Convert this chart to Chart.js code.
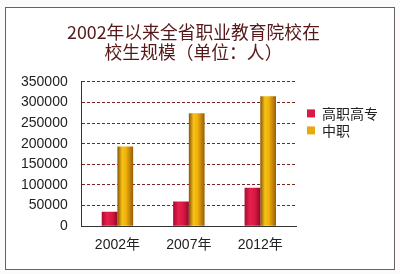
<!DOCTYPE html>
<html>
<head>
<meta charset="utf-8">
<script src="https://cdn.jsdelivr.net/npm/chart.js@4/dist/chart.umd.min.js"></script>
<style>
  html, body { margin: 0; padding: 0; background: #fbfbfb; }
  #frame {
    position: absolute; left: 5px; top: 7px;
    width: 388px; height: 261px;
    border: 1px solid #6e5f5f; background: #fff;
  }
  #frame canvas { display: block; }
</style>
</head>
<body>
<div id="frame"><canvas id="c" width="388" height="261"></canvas></div>
<script>
const TITLE = ['2002年以来全省职业教育院校在', '校生规模（单位：人）'];
const YEARS = ['2002年', '2007年', '2012年'];
const HIGHER = [35000, 60000, 93000];      // 高职高专
const SECONDARY = [193000, 274000, 315000]; // 中职

const RED_STOPS = [[0, '#a80c30'], [0.35, '#e8204c'], [0.7, '#d21640'], [1, '#8e0a26']];
const GOLD_STOPS = [[0, '#8a5206'], [0.3, '#f6c414'], [0.55, '#f0b00c'], [1, '#9a5c06']];

// horizontal gradient across each bar, for the cylinder look
const barShade = {
  id: 'barShade',
  afterLayout(chart) {
    // nudge the legend a little away from the plot
    chart.legend.left += 8;
    chart.legend.right += 8;
  },
  beforeDatasetsDraw(chart) {
    const ctx = chart.ctx;
    chart.data.datasets.forEach((ds, i) => {
      const stops = i === 0 ? RED_STOPS : GOLD_STOPS;
      chart.getDatasetMeta(i).data.forEach(bar => {
        const g = ctx.createLinearGradient(bar.x - bar.width / 2, 0, bar.x + bar.width / 2, 0);
        stops.forEach(([o, c]) => g.addColorStop(o, c));
        bar.options.backgroundColor = g;
      });
    });
  }
};

new Chart(document.getElementById('c'), {
  type: 'bar',
  data: {
    labels: YEARS,
    datasets: [
      // scriptable colour so every bar gets its own options object
      { label: '高职高专', data: HIGHER, backgroundColor: () => '#d81a44' },
      { label: '中职', data: SECONDARY, backgroundColor: () => '#e8a810' },
    ],
  },
  plugins: [barShade],
  options: {
    responsive: false,
    animation: false,
    categoryPercentage: 0.44,
    barPercentage: 1,
    layout: { padding: { left: 1, right: 14, top: 4, bottom: 12 } },
    scales: {
      x: {
        grid: { display: false },
        border: { color: '#333', width: 1 },
        ticks: { color: '#222', font: { family: 'Liberation Sans, Noto Sans CJK SC', size: 14 }, padding: 3 },
      },
      y: {
        min: 0,
        max: 350000,
        ticks: {
          stepSize: 50000, color: '#222', padding: 14,
          font: { family: 'Liberation Sans', size: 14 },
          callback: v => String(v),
        },
        grid: { color: '#7a2424', lineWidth: 1, drawTicks: false },
        border: { color: '#333', width: 1, dash: [3, 2] },
      },
    },
    plugins: {
      title: {
        display: true,
        text: TITLE,
        color: '#561818',
        font: { family: 'Noto Sans CJK SC', size: 17.8, weight: 'normal', lineHeight: 1.12 },
        padding: { top: 10, bottom: 20 },
      },
      legend: {
        position: 'right',
        align: 'start',
        title: { display: true, text: ' ', padding: { top: 77 } },
        labels: {
          boxWidth: 8,
          boxHeight: 8,
          padding: 3,
          color: '#222',
          font: { family: 'Noto Sans CJK SC', size: 14 },
        },
      },
      tooltip: { enabled: false },
    },
  },
});
</script>
</body>
</html>
